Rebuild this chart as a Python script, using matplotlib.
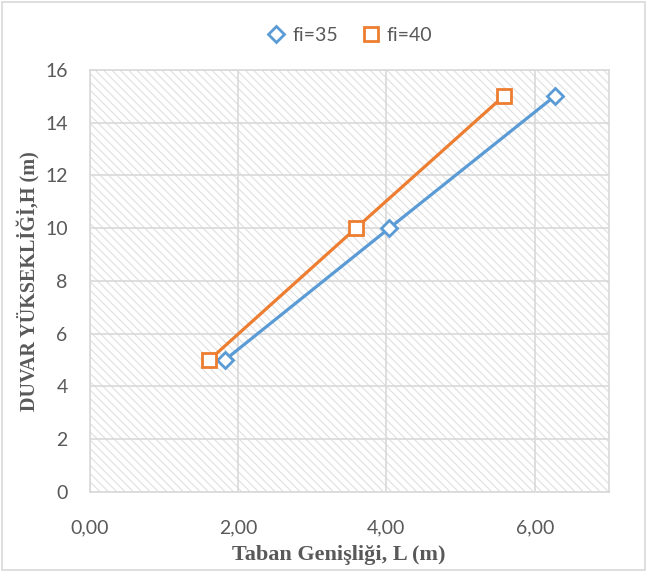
import matplotlib.pyplot as plt
from matplotlib.patches import Rectangle
from matplotlib.ticker import FuncFormatter

plt.rcParams['font.family'] = ['Lato', 'DejaVu Sans']
plt.rcParams['hatch.linewidth'] = 0.7

# Data
L_fi35 = [1.82, 4.04, 6.27]
L_fi40 = [1.61, 3.59, 5.58]
H_vals = [5, 10, 15]

blue = '#5B9BD5'
orange = '#ED7D31'
grid_c = '#D9D9D9'
hatch_c = '#DCDCDC'
text_c = '#595959'

fig = plt.figure(figsize=(6.47, 5.72), dpi=100)
ax = fig.add_axes([0.139, 0.14, 0.802, 0.738])

# hatched plot area
ax.add_patch(Rectangle((0, 0), 1, 1, transform=ax.transAxes, facecolor='white',
                       edgecolor=hatch_c, hatch='\\\\\\\\', linewidth=0, zorder=0))

ax.plot(L_fi35, H_vals, color=blue, lw=2.3, marker='D', markersize=8,
        markerfacecolor='white', markeredgecolor=blue, markeredgewidth=2,
        label='fi=35', zorder=3)
ax.plot(L_fi40, H_vals, color=orange, lw=2.3, marker='s', markersize=10,
        markerfacecolor='white', markeredgecolor=orange, markeredgewidth=2,
        label='fi=40', zorder=3)

ax.set_xlim(0, 7)
ax.set_ylim(0, 16)
ax.set_xticks([0, 2, 4, 6])
ax.set_yticks(range(0, 17, 2))
ax.xaxis.set_major_formatter(FuncFormatter(lambda v, p: f'{v:.2f}'.replace('.', ',')))
ax.grid(True, color=grid_c, linewidth=1.2, zorder=1)
ax.set_axisbelow(True)
ax.tick_params(length=0, labelsize=14, colors=text_c)
ax.tick_params(axis='y', pad=16)
ax.tick_params(axis='x', pad=20)
for s in ax.spines.values():
    s.set_color(grid_c)
    s.set_linewidth(1.2)

ax.set_xlabel('Taban Genişliği, L (m)', family='Liberation Serif', fontweight='bold',
              fontsize=16, color=text_c, labelpad=1)
ax.xaxis.set_label_coords(0.48, -0.125)
ax.set_ylabel('DUVAR YÜKSEKLİĞİ,H (m)', family='Liberation Serif', fontweight='bold',
              fontsize=14.5, color=text_c, labelpad=3)

leg = ax.legend(loc='lower center', bbox_to_anchor=(0.5, 1.02), ncol=2, frameon=False,
                fontsize=14, labelcolor=text_c, handlelength=1.0, handletextpad=0.3,
                columnspacing=1.2)
for h in leg.get_lines():
    h.set_linestyle('none')

fig.patches.append(Rectangle((0.003, 0.003), 0.994, 0.994, transform=fig.transFigure,
                             fill=False, edgecolor=grid_c, linewidth=1.2))

plt.savefig('out.png', dpi=100)
